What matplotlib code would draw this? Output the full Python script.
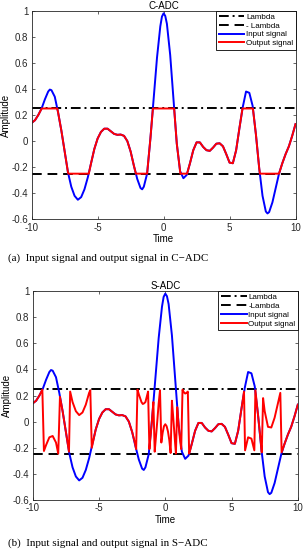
import matplotlib
matplotlib.use("Agg")
import matplotlib.pyplot as plt

LAMBDA = 0.25

# input signal
t_in = [-10.0, -9.75, -9.5, -9.25, -9.0, -8.75, -8.625, -8.5, -8.25, -8.0, -7.75, -7.5,
        -7.25, -7.0, -6.75, -6.5, -6.25, -6.0, -5.75, -5.5, -5.25, -5.0, -4.75, -4.5,
        -4.25, -4.0, -3.75, -3.5, -3.25, -3.0, -2.75, -2.5, -2.25, -2.0, -1.75, -1.625,
        -1.5, -1.25, -1.0, -0.75, -0.5, -0.25, -0.125, 0.0, 0.125, 0.25, 0.5, 0.75,
        1.0, 1.25, 1.5, 1.75, 2.0, 2.25, 2.5, 2.75, 3.0, 3.25, 3.5, 3.75,
        4.0, 4.25, 4.5, 4.75, 5.0, 5.25, 5.5, 5.75, 6.0, 6.25, 6.5, 6.75,
        7.0, 7.25, 7.5, 7.75, 7.875, 8.0, 8.25, 8.5, 8.75, 9.0, 9.25, 9.5, 9.75, 10.0]
y_in = [0.14, 0.16, 0.20, 0.25, 0.32, 0.38, 0.395, 0.39, 0.34, 0.22, 0.08, -0.08,
        -0.24, -0.35, -0.42, -0.45, -0.43, -0.37, -0.28, -0.17, -0.06, 0.02, 0.07, 0.095,
        0.095, 0.075, 0.055, 0.048, 0.05, 0.04, 0.0, -0.08, -0.19, -0.29, -0.36, -0.37,
        -0.35, -0.25, 0.02, 0.33, 0.64, 0.88, 0.955, 0.98, 0.96, 0.9, 0.66, 0.32,
        -0.02, -0.23, -0.285, -0.26, -0.17, -0.07, -0.01, -0.01, -0.045, -0.07, -0.075, -0.05,
        -0.02, -0.017, -0.04, -0.1, -0.165, -0.17, -0.07, 0.1, 0.26, 0.38, 0.37, 0.27,
        0.05, -0.21, -0.42, -0.54, -0.555, -0.545, -0.47, -0.36, -0.25, -0.17, -0.1, -0.04, 0.04, 0.13]

# C-ADC output (clipped signal)
t_c = [-10.0, -9.75, -9.5, -9.24, -8.06, -8.0, -7.75, -7.5, -7.25, -7.22, -5.67, -5.5,
       -5.25, -5.0, -4.75, -4.5, -4.25, -4.0, -3.75, -3.5, -3.25, -3.0, -2.75, -2.5,
       -2.25, -2.1, -1.25, -1.0, -0.81, 0.8, 1.0, 1.25, 1.27, 1.78, 2.0, 2.25,
       2.5, 2.75, 3.0, 3.25, 3.5, 3.75, 4.0, 4.25, 4.5, 4.75, 5.0, 5.25,
       5.5, 5.75, 5.98, 6.77, 7.0, 7.25, 7.3, 8.75, 9.0, 9.25, 9.5, 9.75, 10.0]
y_c = [0.14, 0.16, 0.20, 0.25, 0.25, 0.22, 0.08, -0.08, -0.24, -0.25, -0.25, -0.17,
       -0.06, 0.02, 0.07, 0.095, 0.095, 0.075, 0.055, 0.048, 0.05, 0.04, 0.0, -0.08,
       -0.19, -0.25, -0.25, 0.02, 0.25, 0.25, -0.02, -0.23, -0.25, -0.25, -0.17, -0.07,
       -0.01, -0.01, -0.045, -0.07, -0.075, -0.05, -0.02, -0.017, -0.04, -0.1, -0.165, -0.17,
       -0.07, 0.1, 0.25, 0.25, 0.05, -0.21, -0.25, -0.25, -0.17, -0.1, -0.04, 0.04, 0.13]

# S-ADC output (self-reset / folded signal)
t_s = [-10.0, -9.75, -9.5, -9.28, -9.16, -9.0, -8.75, -8.5, -8.25, -8.08, -7.95, -7.75,
       -7.5, -7.27, -7.18, -7.0, -6.75, -6.5, -6.25, -6.0, -5.75, -5.66, -5.55, -5.25,
       -5.0, -4.75, -4.5, -4.25, -4.0, -3.75, -3.5, -3.25, -3.0, -2.75, -2.5, -2.3,
       -2.2, -2.1, -2.0, -1.9, -1.8, -1.7, -1.6, -1.5, -1.4, -1.3, -1.2, -1.1,
       -1.0, -0.9, -0.8, -0.7, -0.6, -0.5, -0.4, -0.3, -0.2, -0.1, 0.0, 0.1,
       0.2, 0.3, 0.4, 0.5, 0.6, 0.7, 0.8, 0.9, 1.0, 1.1, 1.2, 1.3,
       1.4, 1.5, 1.6, 1.7, 1.8, 1.9, 2.0, 2.25, 2.5, 2.75, 3.0, 3.25,
       3.5, 3.75, 4.0, 4.25, 4.5, 4.75, 5.0, 5.25, 5.5, 5.75, 5.94, 6.02,
       6.25, 6.5, 6.72, 6.8, 7.0, 7.2, 7.28, 7.38, 7.5, 7.75, 8.0, 8.25,
       8.5, 8.68, 8.78, 9.0, 9.25, 9.5, 9.75, 10.0]
y_s = [0.14, 0.16, 0.20, 0.245, -0.225, -0.18, -0.12, -0.11, -0.16, -0.245, 0.19, 0.08,
       -0.08, -0.23, 0.23, 0.15, 0.08, 0.05, 0.07, 0.13, 0.22, 0.24, -0.20, -0.06,
       0.02, 0.07, 0.095, 0.095, 0.075, 0.055, 0.048, 0.05, 0.04, 0.0, -0.08, -0.16,
       -0.21, 0.245, 0.21, 0.18, 0.15, 0.135, 0.14, 0.15, 0.19, 0.23, -0.21, -0.10,
       0.02, 0.15, -0.23, -0.11, 0.01, 0.14, 0.24, -0.16, -0.085, -0.035, -0.02, -0.035,
       -0.075, -0.14, -0.24, 0.16, 0.03, -0.11, -0.245, 0.11, -0.02, -0.13, -0.21, 0.245,
       0.225, 0.215, 0.22, 0.23, -0.245, -0.21, -0.17, -0.07, -0.01, -0.01, -0.045, -0.07,
       -0.075, -0.05, -0.02, -0.017, -0.04, -0.1, -0.165, -0.17, -0.07, 0.1, 0.23, -0.22,
       -0.12, -0.13, -0.22, 0.24, 0.05, -0.15, -0.235, 0.18, 0.08, -0.04, -0.045, 0.03,
       0.14, 0.22, -0.235, -0.17, -0.1, -0.04, 0.04, 0.13]

x_ticks = [-10, -5, 0, 5, 10]
y_ticks = [-0.6, -0.4, -0.2, 0, 0.2, 0.4, 0.6, 0.8, 1.0]
y_ticklabels = ["-0.6", "-0.4", "-0.2", "0", "0.2", "0.4", "0.6", "0.8", "1"]

panels = [
    dict(title="C-ADC", neg_label="- Lambda", t_out=t_c, y_out=y_c,
         caption="(a)  Input signal and output signal in C\u2212ADC",
         rect=[31.7 / 304, 1 - 219.3 / 550, 263.8 / 304, 208.6 / 550], cap_y=1 - 258 / 550),
    dict(title="S-ADC", neg_label="-Lambda", t_out=t_s, y_out=y_s,
         caption="(b)  Input signal and output signal in S\u2212ADC",
         rect=[32.8 / 304, 1 - 500 / 550, 265.0 / 304, 209.0 / 550], cap_y=1 - 543 / 550),
]

fig = plt.figure(figsize=(3.04, 5.5), dpi=100)
sans = ["Liberation Sans", "DejaVu Sans"]

for p in panels:
    ax = fig.add_axes(p["rect"])
    ax.plot([-10, 10], [LAMBDA, LAMBDA], color="black", lw=1.4,
            linestyle=(0, (5, 2, 1, 2)), label="Lambda")
    ax.plot([-10, 10], [-LAMBDA, -LAMBDA], color="black", lw=1.4,
            linestyle=(0, (5, 3)), label=p["neg_label"])
    ax.plot(t_in, y_in, color="#0000ff", lw=1.4, label="Input signal")
    ax.plot(p["t_out"], p["y_out"], color="#ff0000", lw=1.4, label="Output signal")
    ax.set_xlim(-10, 10)
    ax.set_ylim(-0.6, 1)
    ax.set_xticks(x_ticks)
    ax.set_xticklabels([str(v) for v in x_ticks], family=sans)
    ax.set_yticks(y_ticks)
    ax.set_yticklabels(y_ticklabels, family=sans)
    ax.tick_params(direction="in", length=2, width=0.5, labelsize=7,
                   top=True, right=True, colors="#262626", pad=2.5)
    for s in ax.spines.values():
        s.set_linewidth(0.6)
        s.set_color("#262626")
    ax.set_title(p["title"], fontsize=7, family=sans, pad=1.5)
    ax.set_xlabel("Time", fontsize=7, family=sans, labelpad=1)
    ax.set_ylabel("Amplitude", fontsize=7, family=sans, labelpad=0.5)
    leg = ax.legend(loc="upper right", borderaxespad=0,
                    prop={"family": sans, "size": 5.8},
                    handlelength=3.2, handletextpad=0.2, labelspacing=0.15,
                    borderpad=0.3, fancybox=False, framealpha=1, edgecolor="black")
    leg.get_frame().set_linewidth(0.6)
    fig.text(8 / 304, p["cap_y"], p["caption"], fontsize=7.9,
             family=["Liberation Serif", "DejaVu Serif"], va="center", ha="left")

fig.savefig("out.png", dpi=100)
